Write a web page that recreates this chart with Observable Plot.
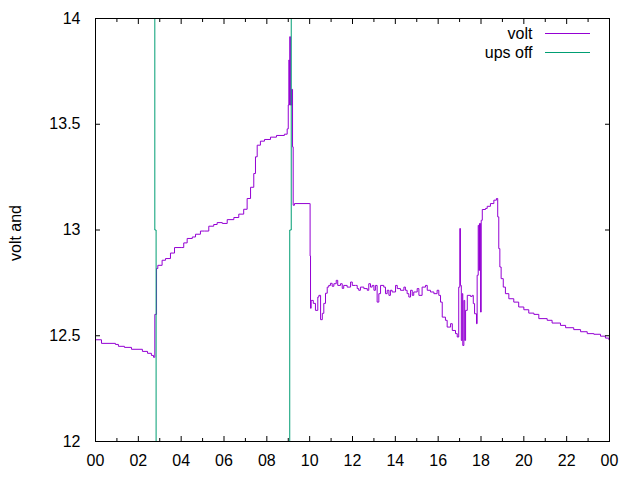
<!DOCTYPE html>
<html><head><meta charset="utf-8">
<script src="https://cdn.jsdelivr.net/npm/d3@7"></script>
<script src="https://cdn.jsdelivr.net/npm/@observablehq/plot@0.6"></script>
<style>body{margin:0;background:#fff}</style>
</head><body><div id="chart"></div>
<script>
// ---- data (hours of day, volts) ----
const voltHours = [0,0.28,0.93,1.07,1.35,1.68,2.19,2.43,2.61,2.71,2.75,2.77,2.85,2.91,3.11,3.27,3.50,3.69,4.00,4.12,4.28,4.52,4.67,4.90,5.09,5.29,5.52,5.68,5.92,6.15,6.46,6.69,6.92,7.08,7.24,7.39,7.47,7.55,7.70,7.89,8.17,8.45,8.82,8.95,9.00,9.03,9.05,9.07,9.10,9.16,9.20,9.23,9.29,10.01,10.02,10.04,
10.07,10.17,10.27,10.38,10.43,10.51,10.59,10.66,10.74,10.82,10.89,10.97,11.05,11.13,11.24,11.31,11.44,11.52,11.59,11.75,11.91,11.99,12.14,12.22,12.29,12.37,12.53,12.69,12.76,12.84,12.92,13.00,13.07,13.15,13.23,13.31,13.46,13.54,13.62,13.70,13.77,13.85,14.01,14.09,14.24,14.40,14.47,14.55,14.63,14.71,14.79,14.86,15.02,15.10,15.25,15.41,15.49,15.64,15.80,15.95,16.03,16.11,16.19,16.34,16.42,16.58,16.66,16.81,16.89,16.96,17.01,17.04,17.08,17.12,17.15,17.20,17.24,17.28,17.36,17.51,17.59,17.64,17.70,17.79,17.82,17.87,17.90,17.93,17.98,18.01,18.06,18.21,18.29,18.44,18.60,18.72,18.78,18.83,18.88,18.94,19.04,19.14,19.30,19.53,19.76,20.00,20.23,20.47,20.70,21.09,21.32,21.71,21.95,22.33,22.65,22.96,23.27,23.58,23.81,23.97,24.00];
const voltValues = [12.481,12.464,12.459,12.450,12.445,12.436,12.426,12.417,12.407,12.398,12.398,12.601,12.818,12.833,12.857,12.865,12.891,12.917,12.917,12.939,12.960,12.967,12.980,12.995,12.995,13.018,13.026,13.035,13.031,13.049,13.059,13.075,13.098,13.149,13.202,13.267,13.346,13.401,13.420,13.428,13.439,13.447,13.453,13.478,13.591,13.804,13.591,13.914,13.591,13.665,13.393,13.117,13.125,13.125,12.877,12.630,
12.667,12.653,12.620,12.683,12.691,12.576,12.606,12.653,12.701,12.730,12.738,12.748,12.734,12.746,12.762,12.738,12.746,12.724,12.738,12.730,12.754,12.738,12.738,12.723,12.715,12.730,12.723,12.715,12.746,12.730,12.738,12.715,12.738,12.659,12.699,12.738,12.730,12.699,12.715,12.691,12.715,12.707,12.738,12.723,12.715,12.730,12.715,12.699,12.683,12.715,12.691,12.707,12.723,12.691,12.730,12.738,12.715,12.707,12.699,12.715,12.691,12.659,12.588,12.573,12.541,12.557,12.525,12.510,12.494,12.730,13.007,12.738,12.478,12.699,12.454,12.667,12.478,12.620,12.691,12.686,12.691,12.652,12.604,12.557,12.786,13.022,12.809,13.031,12.612,13.046,13.097,13.102,13.112,13.125,13.141,13.149,13.062,12.912,12.825,12.770,12.730,12.699,12.675,12.659,12.636,12.623,12.607,12.601,12.581,12.573,12.560,12.549,12.538,12.529,12.519,12.510,12.507,12.498,12.489,12.481,12.490];
const upsHours  = [0, 2.77, 2.77, 2.83, 2.83, 9.07, 9.07, 9.14, 9.14, 24];
const upsValues = [15, 15, 13, 13, 11, 11, 13, 13, 15, 15];

const xMajorTicks = [0,2,4,6,8,10,12,14,16,18,20,22,24];
const xMinorTicks = [1,3,5,7,9,11,13,15,17,19,21,23];
const xTickLabels = ["00","02","04","06","08","10","12","14","16","18","20","22","00"];
const yTicks = [12, 12.5, 13, 13.5, 14];
const yTickLabels = ["12","12.5","13","13.5","14"];
const seriesNames = ["volt", "ups off"];
const seriesColors = ["#9400d3", "#009e73"];
const yAxisTitle = "volt and";

const volt = voltHours.map((t, i) => ({t, v: voltValues[i]}));
const ups = upsHours.map((t, i) => ({t, v: upsValues[i]}));

const chart = Plot.plot({
  width: 640, height: 480,
  marginLeft: 95, marginRight: 31, marginTop: 18, marginBottom: 39,
  style: {fontFamily: "'Liberation Sans', Arial, sans-serif", fontSize: "16px", background: "white", color: "black", overflow: "visible"},
  x: {domain: [0, 24], label: null},
  y: {domain: [12, 14], label: null},
  marks: [
    Plot.line(volt, {x: "t", y: "v", stroke: seriesColors[0], strokeWidth: 1, curve: "step-after", clip: true}),
    Plot.line(ups, {x: "t", y: "v", stroke: seriesColors[1], strokeWidth: 1, clip: true}),
    Plot.frame({stroke: "black", strokeWidth: 1}),
    // inward ticks
    Plot.axisX({anchor: "bottom", ticks: xMajorTicks, tickSize: 5, dy: -5, tickFormat: () => "", label: null}),
    Plot.axisX({anchor: "bottom", ticks: xMinorTicks, tickSize: 3, dy: -3, tickFormat: () => "", label: null}),
    Plot.axisX({anchor: "top", ticks: xMajorTicks, tickSize: 5, dy: 5, tickFormat: () => "", label: null}),
    Plot.axisX({anchor: "top", ticks: xMinorTicks, tickSize: 3, dy: 3, tickFormat: () => "", label: null}),
    Plot.axisY({anchor: "left", ticks: yTicks, tickSize: 5, dx: 5, tickFormat: () => "", label: null}),
    Plot.axisY({anchor: "right", ticks: yTicks, tickSize: 5, dx: -5, tickFormat: () => "", label: null}),
    // tick labels
    Plot.axisX({anchor: "bottom", ticks: xMajorTicks, tickSize: 0, tickPadding: 13, tickFormat: d => xTickLabels[xMajorTicks.indexOf(d)], label: null, fontSize: 16}),
    Plot.axisY({anchor: "left", ticks: yTicks, tickSize: 0, tickPadding: 15, tickFormat: d => yTickLabels[yTicks.indexOf(d)], label: null, fontSize: 16}),
    // y axis title
    Plot.text([yAxisTitle], {frameAnchor: "left", rotate: -90, dx: -80, dy: 3, textAnchor: "middle", lineAnchor: "middle", fontSize: 16, fill: "black"}),
    // legend
    Plot.text([seriesNames[0]], {frameAnchor: "top-right", dx: -77, dy: 15, textAnchor: "end", lineAnchor: "middle", fontSize: 16, fill: "black"}),
    Plot.text([seriesNames[1]], {frameAnchor: "top-right", dx: -77, dy: 34, textAnchor: "end", lineAnchor: "middle", fontSize: 16, fill: "black"}),
    Plot.ruleY([14], {dy: 15, insetLeft: 450, insetRight: 19, stroke: seriesColors[0], strokeWidth: 1}),
    Plot.ruleY([14], {dy: 34, insetLeft: 450, insetRight: 19, stroke: seriesColors[1], strokeWidth: 1})
  ]
});
document.getElementById("chart").appendChild(chart);
</script>
</body></html>
